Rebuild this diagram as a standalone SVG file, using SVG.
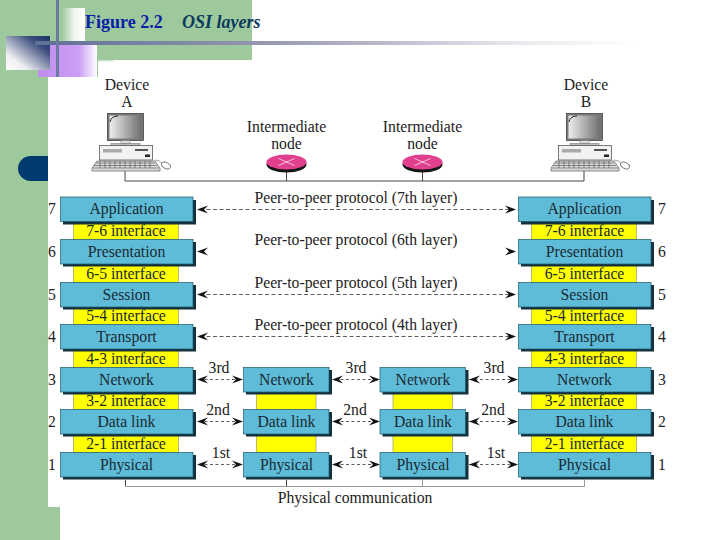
<svg xmlns="http://www.w3.org/2000/svg" width="720" height="540" viewBox="0 0 720 540" xmlns:xlink="http://www.w3.org/1999/xlink">
<style>
text{font-family:"Liberation Serif","Times New Roman",serif;font-size:15.7px;fill:#1a2a33;text-anchor:middle}
.lbl{fill:#222}
.num{font-size:15.7px;fill:#222}
.title{font-size:18px;font-weight:bold;text-anchor:start}
.lay{fill:#5fbcd8;stroke:#1f5a6a;stroke-width:.7}
.sh{fill:#14303c}
.if{fill:#ffff00;stroke:#555;stroke-width:.4}
.peer{stroke:#333;stroke-width:.8;stroke-dasharray:4 2.5;fill:none}
.peer2{stroke:#333;stroke-width:.8;stroke-dasharray:3 2.5;fill:none}
.ah{fill:#111}
.wire{stroke:#444;stroke-width:1;fill:none}
.wire2{stroke:#999;stroke-width:1;fill:none}
</style>
<defs>
<linearGradient id="gLine" x1="0" x2="1" y1="0" y2="0"><stop offset="0" stop-color="#5f7096"/><stop offset=".3" stop-color="#8f92ad"/><stop offset=".5" stop-color="#b8b8cc"/><stop offset=".7" stop-color="#e8e8ee"/><stop offset=".88" stop-color="#ffffff"/></linearGradient>
<linearGradient id="gDark" x1="1" y1="0" x2="0" y2="1"><stop offset="0" stop-color="#1c3468"/><stop offset=".25" stop-color="#3a4c7c"/><stop offset=".75" stop-color="#eeeef2"/><stop offset="1" stop-color="#ffffff"/></linearGradient>
<linearGradient id="gLight" x1="1" x2="0" y1="0" y2="0"><stop offset="0" stop-color="#ffffff"/><stop offset=".45" stop-color="#f0f6ef"/><stop offset="1" stop-color="#a0cba0"/></linearGradient>
<linearGradient id="gPurple" x1="0" x2="1" y1="0" y2="0"><stop offset="0" stop-color="#c08cf0"/><stop offset=".7" stop-color="#cc9ff5"/><stop offset="1" stop-color="#ffffff"/></linearGradient>
<linearGradient id="gScreen" x1="0" x2="1" y1="0" y2="0"><stop offset="0" stop-color="#ededed"/><stop offset="1" stop-color="#6f6f6f"/></linearGradient>
<g id="pc">
<rect x="107.500" y="113.500" width="36" height="27" fill="#777" stroke="#333" stroke-width=".7"/>
<rect x="109.500" y="115.500" width="32" height="23" fill="url(#gScreen)"/>
<path d="M110 122Q111 116 118 116" fill="none" stroke="#222" stroke-width="1"/>
<rect x="121" y="140.500" width="9" height="3" fill="#ddd" stroke="#777" stroke-width=".5"/>
<rect x="111" y="143.500" width="29" height="2" fill="#bbb" stroke="#666" stroke-width=".5"/>
<rect x="99.500" y="145.500" width="53" height="14.500" fill="#f2f2f2" stroke="#444" stroke-width=".7"/>
<rect x="103" y="149" width="19" height="3.500" fill="#aaa"/>
<rect x="135" y="149" width="13" height="2" fill="#555"/>
<rect x="145" y="154.500" width="5" height="2.500" fill="#222"/>
<path d="M97 161H155L160 168V171H92V168Z" fill="#dcdcdc" stroke="#444" stroke-width=".6"/>
<path d="M96 163H155M94 165.500H157M93 168H159M100 161V168M105 161V168M110 161V168M115 161V168M120 161V168M125 161V168M130 161V168M135 161V168M140 161V168M145 161V168M150 161V168" stroke="#333" stroke-width=".5" fill="none"/>
<path d="M155 160Q160 160 163 164" fill="none" stroke="#444" stroke-width=".5"/>
<ellipse cx="166" cy="165.500" rx="4.800" ry="3" transform="rotate(25 166 165.500)" fill="#fff" stroke="#333" stroke-width=".6"/>
</g>
<g id="rt">
<ellipse cx="0" cy="2.500" rx="20" ry="8" fill="#151515"/>
<ellipse cx="0" cy="0" rx="20" ry="7.500" fill="#e0408e"/>
<path d="M-8-3.500L8 3.500M-8 3.500L8-3.500" stroke="#f8c0dc" stroke-width="1"/>
</g>
<g id="ahL"><path class="ah" d="M0 0L11-4L7 0L11 4Z"/></g>
<g id="ahR"><path class="ah" d="M0 0L-11-4L-7 0L-11 4Z"/></g>
</defs>

<g id="background">
<rect width="720" height="540" fill="#ffffff"/>
<rect x="0" y="0" width="48" height="540" fill="#9dc99d"/>
<rect x="48" y="507" width="12" height="33" fill="#9dc99d"/>
<rect x="48" y="0" width="204" height="60" fill="#9dc99d"/>
<rect x="48" y="60" width="50" height="17" fill="#9dc99d"/>
<rect x="98" y="60" width="15" height="1.500" fill="#cfe3cf"/>
<path d="M48 156H30.500A12.500 12.500 0 0 0 30.500 181H48Z" fill="#003b6f"/>
<rect x="62" y="8" width="23" height="33" fill="url(#gLight)"/>
<rect x="38" y="45" width="59" height="32" fill="url(#gPurple)"/>
<rect x="6" y="36" width="44" height="34" fill="url(#gDark)"/>
<rect x="35" y="41" width="685" height="4" fill="url(#gLine)"/>
<rect x="56" y="0" width="3" height="77" fill="#6d7aa0"/>
</g>

<g id="title">
<text class="title" x="85" y="28" style="fill:#0a1fa8">Figure 2.2</text>
<text class="title" x="182" y="28" style="fill:#0b3a5c;font-style:italic">OSI layers</text>
</g>

<g id="connectors">
<path class="wire" d="M125 170V181H584V170M286.500 172V181M422.500 172V181"/>
<path class="wire2" d="M125.500 480V486.500H584.500V480M286.500 480V486.500M422.500 480V486.500"/>
<path class="wire" d="M125.500 480V486M286.500 480V486"/>
<path class="peer" d="M200 209.500H514M200 294.500H514M200 336.500H514"/>
<use xlink:href="#ahL" x="197" y="209.500"/><use xlink:href="#ahR" x="516" y="209.500"/>
<use xlink:href="#ahL" x="197" y="251.500"/><use xlink:href="#ahR" x="516" y="251.500"/>
<use xlink:href="#ahL" x="197" y="294.500"/><use xlink:href="#ahR" x="516" y="294.500"/>
<use xlink:href="#ahL" x="197" y="336.500"/><use xlink:href="#ahR" x="516" y="336.500"/>
<path class="peer2" d="M199 379.500H241M335 379.500H377M469 379.500H516M199 421.500H241M335 421.500H377M469 421.500H516M199 464.500H241M335 464.500H377M469 464.500H516"/>
<g id="hop-arrows">
<use xlink:href="#ahL" x="197" y="379.500"/><use xlink:href="#ahR" x="243" y="379.500"/>
<use xlink:href="#ahL" x="332" y="379.500"/><use xlink:href="#ahR" x="380" y="379.500"/>
<use xlink:href="#ahL" x="469" y="379.500"/><use xlink:href="#ahR" x="518" y="379.500"/>
<use xlink:href="#ahL" x="197" y="421.500"/><use xlink:href="#ahR" x="243" y="421.500"/>
<use xlink:href="#ahL" x="332" y="421.500"/><use xlink:href="#ahR" x="380" y="421.500"/>
<use xlink:href="#ahL" x="469" y="421.500"/><use xlink:href="#ahR" x="518" y="421.500"/>
<use xlink:href="#ahL" x="197" y="464.500"/><use xlink:href="#ahR" x="243" y="464.500"/>
<use xlink:href="#ahL" x="332" y="464.500"/><use xlink:href="#ahR" x="380" y="464.500"/>
<use xlink:href="#ahL" x="469" y="464.500"/><use xlink:href="#ahR" x="518" y="464.500"/>
</g>
</g>

<g id="device-a"><text class="lbl" x="127" y="90">Device</text><text class="lbl" x="127" y="107">A</text><use xlink:href="#pc"/></g>
<g id="device-b"><text class="lbl" x="586" y="90">Device</text><text class="lbl" x="586" y="107">B</text><use xlink:href="#pc" x="459"/></g>
<g id="node-1"><text class="lbl" x="286.500" y="132">Intermediate</text><text class="lbl" x="286.500" y="149">node</text><use xlink:href="#rt" x="286.500" y="162"/></g>
<g id="node-2"><text class="lbl" x="422.500" y="132">Intermediate</text><text class="lbl" x="422.500" y="149">node</text><use xlink:href="#rt" x="422.500" y="162"/></g>

<g id="peer-labels">
<text class="lbl" x="356" y="203">Peer-to-peer protocol (7th layer)</text>
<text class="lbl" x="356" y="245">Peer-to-peer protocol (6th layer)</text>
<text class="lbl" x="356" y="288">Peer-to-peer protocol (5th layer)</text>
<text class="lbl" x="356" y="330">Peer-to-peer protocol (4th layer)</text>
<text class="lbl" x="219" y="373">3rd</text><text class="lbl" x="356" y="373">3rd</text><text class="lbl" x="494" y="373">3rd</text>
<text class="lbl" x="218" y="415">2nd</text><text class="lbl" x="355" y="415">2nd</text><text class="lbl" x="493" y="415">2nd</text>
<text class="lbl" x="221" y="458">1st</text><text class="lbl" x="358" y="458">1st</text><text class="lbl" x="496" y="458">1st</text>
<text class="lbl" x="355" y="503">Physical communication</text>
</g>

<g id="stack-a">
<rect class="if" x="73.500" y="221" width="105" height="18.500"/><text x="126" y="235.500">7-6 interface</text>
<rect class="if" x="73.500" y="264" width="105" height="18.500"/><text x="126" y="278.500">6-5 interface</text>
<rect class="if" x="73.500" y="306" width="105" height="18.500"/><text x="126" y="320.500">5-4 interface</text>
<rect class="if" x="73.500" y="349" width="105" height="18.500"/><text x="126" y="363.500">4-3 interface</text>
<rect class="if" x="73.500" y="391" width="105" height="18.500"/><text x="126" y="405.500">3-2 interface</text>
<rect class="if" x="73.500" y="434" width="105" height="18.500"/><text x="126" y="448.500">2-1 interface</text>
<g id="a7"><rect class="sh" x="63" y="200" width="133" height="24.500"/><rect class="lay" x="60.500" y="197" width="132.500" height="24.500"/><text x="126.500" y="214">Application</text></g>
<g id="a6"><rect class="sh" x="63" y="242" width="133" height="24.500"/><rect class="lay" x="60.500" y="239.500" width="132.500" height="24.500"/><text x="126.500" y="257">Presentation</text></g>
<g id="a5"><rect class="sh" x="63" y="285" width="133" height="24.500"/><rect class="lay" x="60.500" y="282.500" width="132.500" height="24.500"/><text x="126.500" y="299.500">Session</text></g>
<g id="a4"><rect class="sh" x="63" y="327" width="133" height="24.500"/><rect class="lay" x="60.500" y="324.500" width="132.500" height="24.500"/><text x="126.500" y="342">Transport</text></g>
<g id="a3"><rect class="sh" x="63" y="370" width="133" height="24.500"/><rect class="lay" x="60.500" y="367.500" width="132.500" height="24.500"/><text x="126.500" y="385">Network</text></g>
<g id="a2"><rect class="sh" x="63" y="412" width="133" height="24.500"/><rect class="lay" x="60.500" y="409.500" width="132.500" height="24.500"/><text x="126.500" y="427">Data link</text></g>
<g id="a1"><rect class="sh" x="63" y="455" width="133" height="24.500"/><rect class="lay" x="60.500" y="452.500" width="132.500" height="24.500"/><text x="126.500" y="470">Physical</text></g>
<text class="num" x="52" y="214">7</text><text class="num" x="52" y="257">6</text><text class="num" x="52" y="299.500">5</text><text class="num" x="52" y="342">4</text><text class="num" x="52" y="385">3</text><text class="num" x="52" y="427">2</text><text class="num" x="52" y="470">1</text>
</g>

<g id="stack-m1">
<rect class="if" x="256.500" y="391" width="59.500" height="18.500"/><rect class="if" x="256.500" y="434" width="59.500" height="18.500"/>
<g id="m1n"><rect class="sh" x="246" y="370" width="86" height="24.500"/><rect class="lay" x="243.500" y="367.500" width="85.500" height="24.500"/><text x="286.500" y="385">Network</text></g>
<g id="m1d"><rect class="sh" x="246" y="412" width="86" height="24.500"/><rect class="lay" x="243.500" y="409.500" width="85.500" height="24.500"/><text x="286.500" y="427">Data link</text></g>
<g id="m1p"><rect class="sh" x="246" y="455" width="86" height="24.500"/><rect class="lay" x="243.500" y="452.500" width="85.500" height="24.500"/><text x="286.500" y="470">Physical</text></g>
</g>

<g id="stack-m2">
<rect class="if" x="393" y="391" width="59.500" height="18.500"/><rect class="if" x="393" y="434" width="59.500" height="18.500"/>
<g id="m2n"><rect class="sh" x="382.500" y="370" width="86" height="24.500"/><rect class="lay" x="380" y="367.500" width="85.500" height="24.500"/><text x="423" y="385">Network</text></g>
<g id="m2d"><rect class="sh" x="382.500" y="412" width="86" height="24.500"/><rect class="lay" x="380" y="409.500" width="85.500" height="24.500"/><text x="423" y="427">Data link</text></g>
<g id="m2p"><rect class="sh" x="382.500" y="455" width="86" height="24.500"/><rect class="lay" x="380" y="452.500" width="85.500" height="24.500"/><text x="423" y="470">Physical</text></g>
</g>

<g id="stack-b">
<rect class="if" x="531.500" y="221" width="105" height="18.500"/><text x="584.500" y="235.500">7-6 interface</text>
<rect class="if" x="531.500" y="264" width="105" height="18.500"/><text x="584.500" y="278.500">6-5 interface</text>
<rect class="if" x="531.500" y="306" width="105" height="18.500"/><text x="584.500" y="320.500">5-4 interface</text>
<rect class="if" x="531.500" y="349" width="105" height="18.500"/><text x="584.500" y="363.500">4-3 interface</text>
<rect class="if" x="531.500" y="391" width="105" height="18.500"/><text x="584.500" y="405.500">3-2 interface</text>
<rect class="if" x="531.500" y="434" width="105" height="18.500"/><text x="584.500" y="448.500">2-1 interface</text>
<g id="b7"><rect class="sh" x="521" y="200" width="133" height="24.500"/><rect class="lay" x="518.500" y="197" width="132.500" height="24.500"/><text x="584.500" y="214">Application</text></g>
<g id="b6"><rect class="sh" x="521" y="242" width="133" height="24.500"/><rect class="lay" x="518.500" y="239.500" width="132.500" height="24.500"/><text x="584.500" y="257">Presentation</text></g>
<g id="b5"><rect class="sh" x="521" y="285" width="133" height="24.500"/><rect class="lay" x="518.500" y="282.500" width="132.500" height="24.500"/><text x="584.500" y="299.500">Session</text></g>
<g id="b4"><rect class="sh" x="521" y="327" width="133" height="24.500"/><rect class="lay" x="518.500" y="324.500" width="132.500" height="24.500"/><text x="584.500" y="342">Transport</text></g>
<g id="b3"><rect class="sh" x="521" y="370" width="133" height="24.500"/><rect class="lay" x="518.500" y="367.500" width="132.500" height="24.500"/><text x="584.500" y="385">Network</text></g>
<g id="b2"><rect class="sh" x="521" y="412" width="133" height="24.500"/><rect class="lay" x="518.500" y="409.500" width="132.500" height="24.500"/><text x="584.500" y="427">Data link</text></g>
<g id="b1"><rect class="sh" x="521" y="455" width="133" height="24.500"/><rect class="lay" x="518.500" y="452.500" width="132.500" height="24.500"/><text x="584.500" y="470">Physical</text></g>
<text class="num" x="662" y="214">7</text><text class="num" x="662" y="257">6</text><text class="num" x="662" y="299.500">5</text><text class="num" x="662" y="342">4</text><text class="num" x="662" y="385">3</text><text class="num" x="662" y="427">2</text><text class="num" x="662" y="470">1</text>
</g>
</svg>
